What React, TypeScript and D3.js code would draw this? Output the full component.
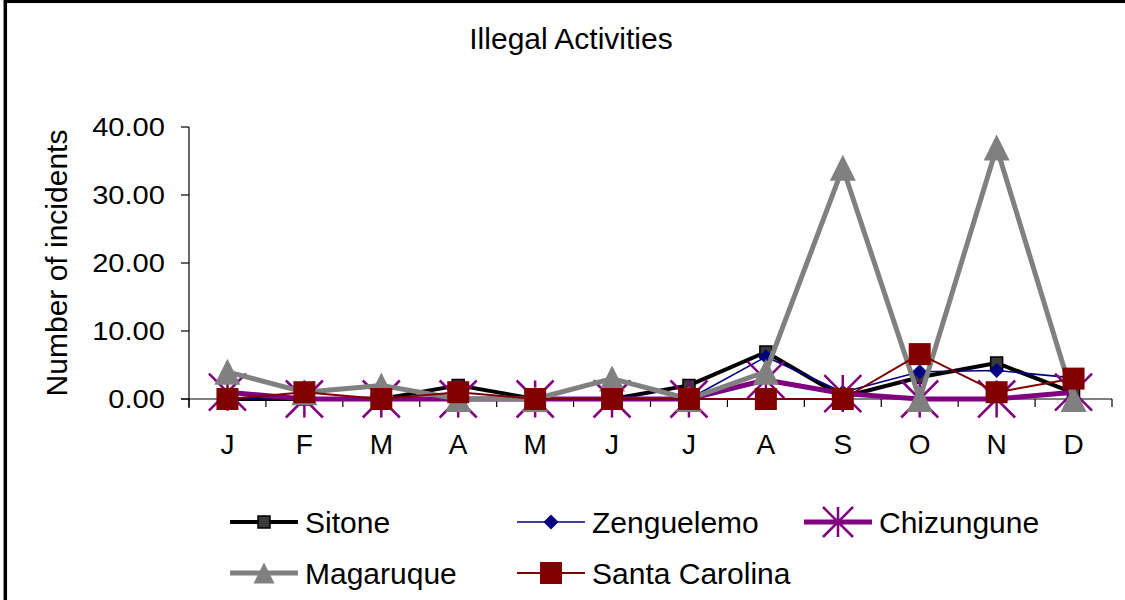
import React from "react";
import * as d3 from "d3";

const months = ["J", "F", "M", "A", "M", "J", "J", "A", "S", "O", "N", "D"];
const yTicks = [0, 10, 20, 30, 40];

const sitone = [0, 0, 0, 2, 0, 0, 2, 6.9, 0.3, 3.2, 5.3, 0.9];
const zenguelemo = [0, 0, 0, 0, 0, 0, 0, 6.2, 1, 4, 4.2, 3.1];
const chizungune = [1, 0, 0, 0, 0, 0, 0, 2.8, 0.8, 0, 0, 1];
const magaruque = [4, 1, 2, 0, 0, 3, 0, 4, 34, 0, 37, 0];
const santaCarolina = [0, 1, 0, 1, 0, 0, 0, 0, 0, 6.6, 1, 3];

const seriesNames = ["Sitone", "Zenguelemo", "Chizungune", "Magaruque", "Santa Carolina"];

type Marker = "square" | "diamond" | "star" | "triangle";
interface SeriesStyle {
  color: string;
  width: number;
  marker: Marker;
  size: number;
  legendSize: number;
  fill: string;
  mstroke: string;
  msw: number;
}

const styles: SeriesStyle[] = [
  { color: "#000000", width: 4, marker: "square", size: 12, legendSize: 12, fill: "#3a3a3a", mstroke: "#000", msw: 1.5 },
  { color: "#000080", width: 1.6, marker: "diamond", size: 15, legendSize: 15, fill: "#000080", mstroke: "none", msw: 0 },
  { color: "#800080", width: 5, marker: "star", size: 37, legendSize: 30, fill: "none", mstroke: "#800080", msw: 2.5 },
  { color: "#808080", width: 5, marker: "triangle", size: 26, legendSize: 21, fill: "#808080", mstroke: "none", msw: 0 },
  { color: "#800000", width: 2, marker: "square", size: 22, legendSize: 22, fill: "#800000", mstroke: "none", msw: 0 },
];

const seriesData = [sitone, zenguelemo, chizungune, magaruque, santaCarolina];

const FONT = "'Liberation Sans', Arial, Helvetica, sans-serif";

function markerPath(m: Marker, s: number): string {
  const h = s / 2;
  switch (m) {
    case "square":
      return `M${-h},${-h}H${h}V${h}H${-h}Z`;
    case "diamond":
      return `M0,${-h}L${h},0L0,${h}L${-h},0Z`;
    case "triangle":
      return `M0,${-h}L${h},${h}L${-h},${h}Z`;
    case "star":
      return `M${-h},${-h}L${h},${h}M${-h},${h}L${h},${-h}M0,${-h}L0,${h}`;
  }
}

function MarkerShape({ st, x, y, size }: { st: SeriesStyle; x: number; y: number; size: number }) {
  return (
    <path
      d={markerPath(st.marker, size)}
      transform={`translate(${x},${y})`}
      fill={st.fill}
      stroke={st.mstroke}
      strokeWidth={st.msw}
    />
  );
}

export default function App() {
  const W = 1125;
  const H = 600;
  const x0 = 189;
  const x1 = 1112;
  const xBand = d3
    .scaleBand<number>()
    .domain(months.map((_, i) => i))
    .range([x0, x1])
    .paddingInner(0)
    .paddingOuter(0);
  const y = d3.scaleLinear().domain([0, 40]).range([399, 127]);
  const cx = (i: number) => (xBand(i) as number) + xBand.bandwidth() / 2;

  const line = d3
    .line<number>()
    .x((_, i) => cx(i))
    .y((d) => y(d));

  const boundaries = d3.range(months.length + 1).map((i) => x0 + i * xBand.bandwidth());

  const legendItems = [
    { row: 0, col: 0 },
    { row: 0, col: 1 },
    { row: 0, col: 2 },
    { row: 1, col: 0 },
    { row: 1, col: 1 },
  ];
  const colX = [230, 517, 804];
  const rowY = [522, 573];

  return (
    <svg
      width={W}
      height={H}
      style={{ position: "absolute", left: 0, top: 0, background: "#fff" }}
      fontFamily={FONT}
    >
      <rect x={0} y={0} width={W} height={H} fill="#fff" />
      <rect x={5.3} y={1.3} width={W + 20} height={H + 20} fill="none" stroke="#000" strokeWidth={3.5} />

      <text x={571} y={49} textAnchor="middle" fontSize={30} fill="#000">
        Illegal Activities
      </text>

      {/* Y axis */}
      <line x1={x0} x2={x0} y1={y(40)} y2={408} stroke="#000" strokeWidth={1.2} />
      {yTicks.map((t) => (
        <g key={t}>
          <line x1={x0 - 8} x2={x0} y1={y(t)} y2={y(t)} stroke="#000" strokeWidth={1.2} />
          <text
            transform={`translate(165,${y(t) + 9}) scale(1.12,1)`}
            textAnchor="end"
            fontSize={26}
            fill="#000"
          >
            {t.toFixed(2)}
          </text>
        </g>
      ))}
      <text
        transform={`translate(67,263) rotate(-90)`}
        textAnchor="middle"
        fontSize={30}
        fill="#000"
      >
        Number of incidents
      </text>

      {/* X axis */}
      <line x1={x0 - 8} x2={x1} y1={y(0)} y2={y(0)} stroke="#000" strokeWidth={1.2} />
      {boundaries.map((bx, i) => (
        <line key={i} x1={bx} x2={bx} y1={y(0)} y2={y(0) + 8} stroke="#000" strokeWidth={1.2} />
      ))}
      {months.map((m, i) => (
        <text key={i} x={cx(i)} y={454} textAnchor="middle" fontSize={28} fill="#000">
          {m}
        </text>
      ))}

      {/* Series */}
      {seriesData.map((data, si) => {
        const st = styles[si];
        return (
          <g key={si}>
            <path d={line(data) || ""} fill="none" stroke={st.color} strokeWidth={st.width} strokeLinejoin="round" />
            {data.map((v, i) => (
              <MarkerShape key={i} st={st} x={cx(i)} y={y(v)} size={st.size} />
            ))}
          </g>
        );
      })}

      {/* Legend */}
      {legendItems.map((it, si) => {
        const st = styles[si];
        const lx = colX[it.col];
        const ly = rowY[it.row];
        return (
          <g key={si}>
            <line x1={lx} x2={lx + 68} y1={ly} y2={ly} stroke={st.color} strokeWidth={st.width} />
            <MarkerShape st={st} x={lx + 34} y={ly} size={st.legendSize} />
            <text x={lx + 75} y={ly + 11} fontSize={30} fill="#000">
              {seriesNames[si]}
            </text>
          </g>
        );
      })}
    </svg>
  );
}
